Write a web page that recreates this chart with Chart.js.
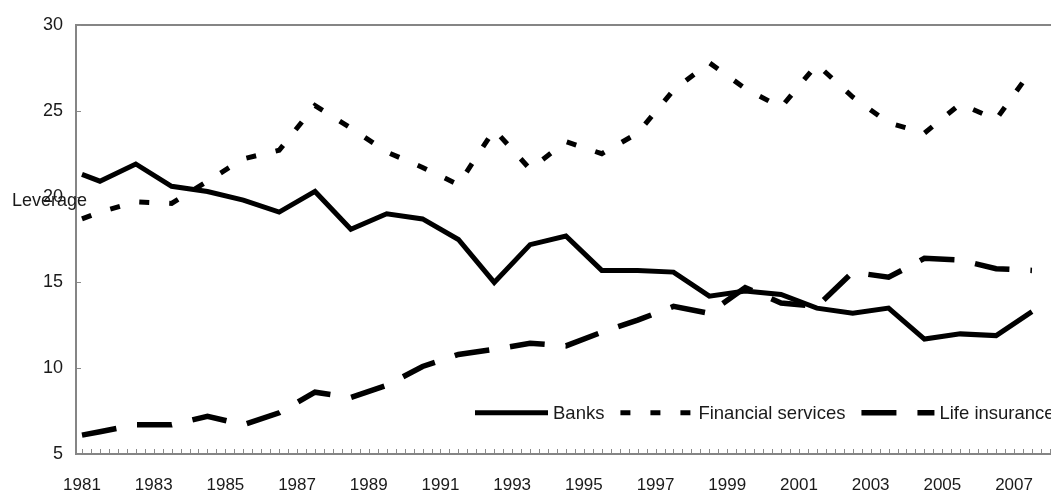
<!DOCTYPE html>
<html><head><meta charset="utf-8">
<script src="https://cdn.jsdelivr.net/npm/chart.js@4.4.1/dist/chart.umd.min.js"></script>
<style>
html,body{margin:0;padding:0;background:#fff;overflow:hidden;width:1051px;height:492px}
#wrap{position:relative;width:1100px;height:492px}
</style></head>
<body><div id="wrap"><canvas id="c" width="1100" height="492"></canvas></div>
<script>
// ---- data ----
const periods = [1981.0, 1981.5, 1982.5, 1983.5, 1984.5, 1985.5, 1986.5, 1987.5, 1988.5, 1989.5,
                 1990.5, 1991.5, 1992.5, 1993.5, 1994.5, 1995.5, 1996.5, 1997.5, 1998.5, 1999.5,
                 2000.5, 2001.5, 2002.5, 2003.5, 2004.5, 2005.5, 2006.5, 2007.5];
const banks = [21.3, 20.9, 21.9, 20.6, 20.3, 19.8, 19.1, 20.3, 18.1, 19.0,
               18.7, 17.5, 15.0, 17.2, 17.7, 15.7, 15.7, 15.6, 14.2, 14.5,
               14.3, 13.5, 13.2, 13.5, 11.7, 12.0, 11.9, 13.3];
const financialServices = [18.7, 19.1, 19.7, 19.6, 20.9, 22.2, 22.7, 25.3, 24.0, 22.6,
                           21.7, 20.7, 23.9, 21.6, 23.2, 22.5, 23.7, 26.2, 27.8, 26.3,
                           25.2, 27.7, 25.8, 24.3, 23.7, 25.4, 24.5, 27.4];
const lifeInsurance = [6.1, 6.3, 6.7, 6.7, 7.2, 6.7, 7.4, 8.6, 8.3, 9.0,
                       10.1, 10.8, 11.1, 11.45, 11.3, 12.1, 12.8, 13.6, 13.2, 14.7,
                       13.8, 13.6, 15.6, 15.3, 16.4, 16.3, 15.8, 15.7];
const seriesNames = ['Banks', 'Financial services', 'Life insurance'];
const yearLabels = [1981, 1983, 1985, 1987, 1989, 1991, 1993, 1995, 1997, 1999, 2001, 2003, 2005, 2007];
const yTickValues = [5, 10, 15, 20, 25, 30];
const axisTitle = 'Leverage';
const minorTickStep = 0.25;

// ---- styling ----
const FONT = '"Liberation Sans", Arial, sans-serif';
const AXIS_GRAY = '#858585';
const TEXT = '#1a1a1a';

function pts(vals){ return vals.map((v,i)=>({x: periods[i], y: v})); }

const datasets = [
  {label: seriesNames[0], data: pts(banks), borderColor:'#000', borderWidth:5, borderDash:[]},
  {label: seriesNames[1], data: pts(financialServices), borderColor:'#000', borderWidth:5, borderDash:[10,20]},
  {label: seriesNames[2], data: pts(lifeInsurance), borderColor:'#000', borderWidth:5.5, borderDash:[35,21]}
].map(d=>Object.assign(d,{pointRadius:0, tension:0, fill:false, borderCapStyle:'butt', borderJoinStyle:'miter'}));

const decor = {
  id:'decor',
  afterDraw(chart){
    const {ctx, chartArea:a, scales:{x, y}} = chart;
    ctx.save();
    // top border
    ctx.strokeStyle = AXIS_GRAY; ctx.lineWidth = 2;
    ctx.beginPath(); ctx.moveTo(a.left, a.top); ctx.lineTo(a.right, a.top); ctx.stroke();
    // inward tick marks
    ctx.lineWidth = 1; ctx.strokeStyle = '#8a8a8a';
    ctx.beginPath();
    for (let t = yearLabels[0]; t <= x.max; t += minorTickStep){
      const px = Math.round(x.getPixelForValue(t)) + 0.5;
      if (px <= a.left + 1) continue;
      ctx.moveTo(px, a.bottom - 1); ctx.lineTo(px, a.bottom - 5);
    }
    yTickValues.forEach(v=>{
      const py = Math.round(y.getPixelForValue(v)) + 0.5;
      ctx.moveTo(a.left + 1, py); ctx.lineTo(a.left + 5, py);
    });
    ctx.stroke();
    // axis title, horizontal
    ctx.fillStyle = TEXT; ctx.font = '18px ' + FONT;
    ctx.textAlign = 'left'; ctx.textBaseline = 'alphabetic';
    ctx.fillText(axisTitle, 12, y.getPixelForValue(20) + 9);
    // legend
    ctx.font = '18.5px ' + FONT;
    let lx = 475; const ly = y.getPixelForValue(7.4);
    ctx.textBaseline = 'middle';
    chart.data.datasets.forEach(ds=>{
      ctx.strokeStyle = ds.borderColor; ctx.lineWidth = ds.borderWidth;
      ctx.setLineDash(ds.borderDash); ctx.lineCap = 'butt';
      ctx.beginPath(); ctx.moveTo(lx, ly); ctx.lineTo(lx + 73, ly); ctx.stroke();
      ctx.setLineDash([]);
      lx += 78;
      ctx.fillText(ds.label, lx, ly + 1);
      lx += ctx.measureText(ds.label).width + 16;
    });
    ctx.restore();
  }
};

new Chart(document.getElementById('c'), {
  type:'line',
  data:{datasets},
  options:{
    responsive:false, animation:false, devicePixelRatio:1,
    layout:{padding:{left:0, top:25, right:20, bottom:0}},
    plugins:{legend:{display:false}, tooltip:{enabled:false}},
    scales:{
      x:{type:'linear', min:1980.833, max:2008.84,
         afterBuildTicks: s => { s.ticks = yearLabels.map(v=>({value:v})); },
         afterFit: s => { s.height = 38; },
         ticks:{font:{family:FONT, size:17}, color:TEXT, padding:21, maxRotation:0, autoSkip:false,
                callback: v => String(v)},
         grid:{display:false, drawTicks:false},
         border:{display:true, color:AXIS_GRAY, width:2}},
      y:{type:'linear', min:5, max:30,
         afterBuildTicks: s => { s.ticks = yTickValues.map(v=>({value:v})); },
         afterFit: s => { s.width = 76; },
         ticks:{font:{family:FONT, size:18}, color:TEXT, padding:13},
         grid:{display:false, drawTicks:false},
         border:{display:true, color:AXIS_GRAY, width:2}}
    }
  },
  plugins:[decor]
});
</script></body></html>
